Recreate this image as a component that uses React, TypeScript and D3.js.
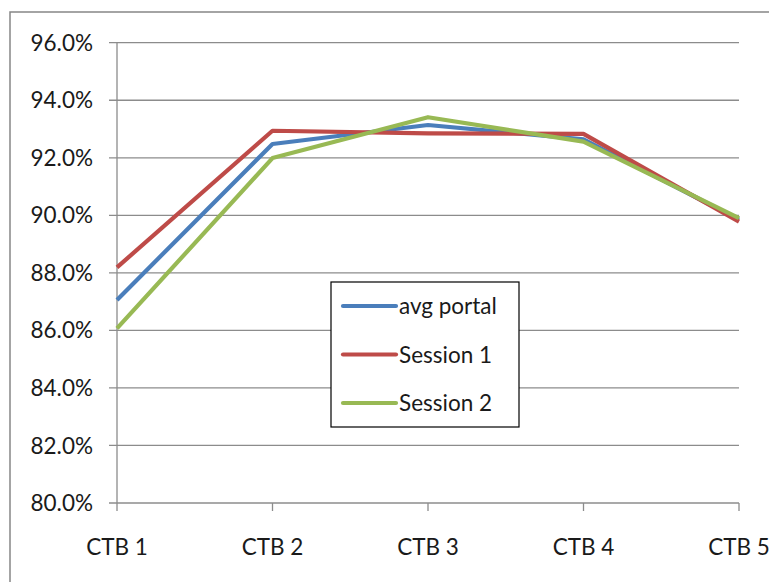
import React from "react";
import * as d3 from "d3";

const categories = ["CTB 1", "CTB 2", "CTB 3", "CTB 4", "CTB 5"];
const avgPortal = [87.06, 92.48, 93.14, 92.64, 89.85];
const session1 = [88.19, 92.94, 92.85, 92.83, 89.78];
const session2 = [86.07, 91.99, 93.41, 92.56, 89.9];
const yTicks = [80, 82, 84, 86, 88, 90, 92, 94, 96];

const seriesList = [
  { name: "avg portal", values: avgPortal, color: "#4A7EBB" },
  { name: "Session 1", values: session1, color: "#BE4B48" },
  { name: "Session 2", values: session2, color: "#98B954" },
];

const W = 769;
const H = 582;
const left = 117;
const right = 739;
const top = 42.7;
const bottom = 503;
const font = "Lato, 'Open Sans', sans-serif";
const fs = 22.5;

export default function App() {
  const x = d3.scalePoint<string>().domain(categories).range([left, right]);
  const y = d3.scaleLinear().domain([80, 96]).range([bottom, top]);
  const line = d3
    .line<number>()
    .x((_, i) => x(categories[i]) as number)
    .y((d) => y(d));

  const legX = 331, legY = 282, legW = 188, legH = 145;

  return (
    <svg
      width={W}
      height={H}
      style={{ position: "absolute", left: 0, top: 0, background: "#fff" }}
    >
      <rect x={10} y={12} width={W + 10} height={H + 10} fill="#fff" stroke="#868686" strokeWidth={1.5} />
      {yTicks.map((t) => (
        <g key={t}>
          <line x1={left - 8} x2={right} y1={y(t)} y2={y(t)} stroke="#8c8c8c" strokeWidth={1.3} />
          <text x={93} y={y(t)} dy="0.36em" textAnchor="end" fontFamily={font} fontSize={fs} fill="#1a1a1a">
            {t.toFixed(1)}%
          </text>
        </g>
      ))}
      <line x1={left} x2={left} y1={top} y2={bottom} stroke="#8c8c8c" strokeWidth={1.3} />
      {categories.map((c) => (
        <g key={c}>
          <line x1={x(c)} x2={x(c)} y1={bottom} y2={bottom + 8} stroke="#8c8c8c" strokeWidth={1.3} />
          <text x={x(c)} y={bottom + 44} dy="0.36em" textAnchor="middle" fontFamily={font} fontSize={fs} fill="#1a1a1a">
            {c}
          </text>
        </g>
      ))}
      {seriesList.map((s) => (
        <path key={s.name} d={line(s.values) || ""} fill="none" stroke={s.color} strokeWidth={4.2} strokeLinejoin="round" />
      ))}
      <rect x={legX} y={legY} width={legW} height={legH} fill="#fff" stroke="#000" strokeWidth={1.2} />
      {seriesList.map((s, i) => {
        const ly = 306 + i * 48.5;
        return (
          <g key={s.name}>
            <line x1={343} x2={396} y1={ly} y2={ly} stroke={s.color} strokeWidth={4.2} strokeLinecap="round" />
            <text x={399} y={ly} dy="0.36em" fontFamily={font} fontSize={fs} fill="#1a1a1a">
              {s.name}
            </text>
          </g>
        );
      })}
    </svg>
  );
}
